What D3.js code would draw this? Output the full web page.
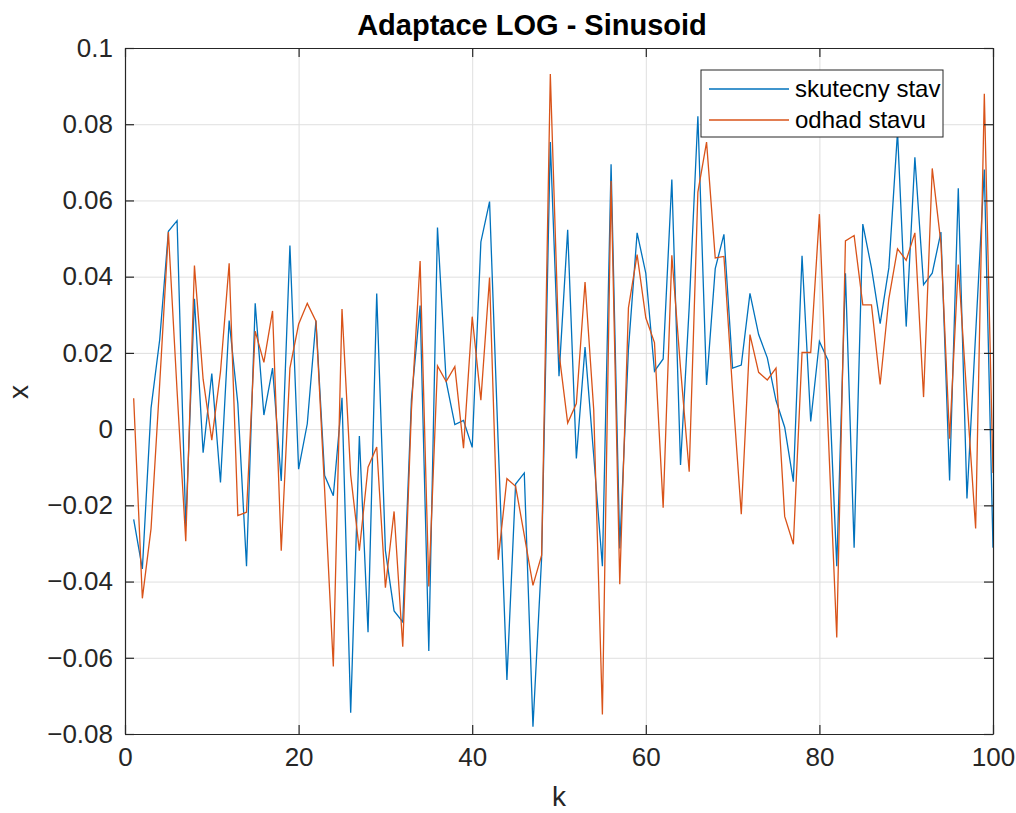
<!DOCTYPE html>
<html>
<head>
<meta charset="utf-8">
<script src="https://cdn.jsdelivr.net/npm/d3@7"></script>
<style>
  body { margin: 0; background: #fff; }
  svg { font-family: "Liberation Sans", Arial, sans-serif; }
</style>
</head>
<body>
<div id="chart"></div>
<script>
// k = 1..100
const kValues = [1,2,3,4,5,6,7,8,9,10,11,12,13,14,15,16,17,18,19,20,
  21,22,23,24,25,26,27,28,29,30,31,32,33,34,35,36,37,38,39,40,
  41,42,43,44,45,46,47,48,49,50,51,52,53,54,55,56,57,58,59,60,
  61,62,63,64,65,66,67,68,69,70,71,72,73,74,75,76,77,78,79,80,
  81,82,83,84,85,86,87,88,89,90,91,92,93,94,95,96,97,98,99,100];

// skutecny stav
const skutecny = [-0.0237,-0.0367,0.0055,0.0235,0.0519,0.0547,-0.0255,0.0342,-0.0062,0.0146,
  -0.014,0.0285,0.0067,-0.036,0.033,0.0037,0.016,-0.0136,0.0482,-0.0105,
  0.0014,0.0285,-0.0122,-0.0175,0.0082,-0.0744,-0.0018,-0.0533,0.0356,-0.0319,
  -0.0477,-0.0506,0.0078,0.0324,-0.0582,0.0529,0.0125,0.0012,0.0023,-0.0048,
  0.0491,0.0597,-0.004,-0.0658,-0.0144,-0.0115,-0.0781,-0.0337,0.0753,0.0139,
  0.0523,-0.0077,0.0215,-0.007,-0.036,0.0695,-0.0313,0.021,0.0515,0.0409,
  0.0152,0.0184,0.0655,-0.0094,0.032,0.0821,0.0116,0.0421,0.0511,0.016,
  0.0168,0.0356,0.0248,0.0187,0.0075,0.0005,-0.0138,0.0455,0.002,0.023,
  0.018,-0.036,0.0409,-0.0311,0.0538,0.0423,0.0277,0.0423,0.078,0.0269,
  0.0713,0.0379,0.0409,0.0517,-0.0135,0.0632,-0.0182,0.025,0.0681,-0.0311];

// odhad stavu
const odhad = [0.0081,-0.0444,-0.0261,0.012,0.0517,0.01,-0.0294,0.0429,0.0131,-0.0029,
  0.015,0.0435,-0.0227,-0.0218,0.0257,0.0175,0.031,-0.0319,0.016,0.0275,
  0.033,0.0283,-0.016,-0.0623,0.0315,-0.012,-0.0319,-0.01,-0.0047,-0.0416,
  -0.0216,-0.0571,0.005,0.0441,-0.0413,0.0166,0.0125,0.0164,-0.005,0.0295,
  0.0076,0.0398,-0.0343,-0.013,-0.015,-0.0278,-0.041,-0.0331,0.0932,0.02,
  0.0016,0.0067,0.0386,0.0051,-0.0749,0.0651,-0.0407,0.0318,0.0458,0.0292,
  0.0227,-0.0206,0.0456,0.016,-0.0112,0.0622,0.0753,0.0449,0.0453,0.01,
  -0.0223,0.0248,0.0149,0.0129,0.016,-0.0229,-0.0302,0.0201,0.0201,0.0564,
  0,-0.0547,0.0494,0.0508,0.0326,0.0326,0.0117,0.0342,0.0473,0.0443,
  0.0515,0.0084,0.0684,0.0488,-0.0025,0.0432,0.008,-0.0261,0.088,-0.0115];

const xTicks = [0, 20, 40, 60, 80, 100];
const yTicks = [-0.08, -0.06, -0.04, -0.02, 0, 0.02, 0.04, 0.06, 0.08, 0.1];
const seriesNames = ["skutecny stav", "odhad stavu"];
const seriesColors = ["#0072BD", "#D95319"];

const W = 1016, H = 813;
const margin = {top: 48, right: 23, bottom: 79, left: 125};
const width = W - margin.left - margin.right,
      height = H - margin.top - margin.bottom;

const svg = d3.select("#chart").append("svg")
    .attr("width", W)
    .attr("height", H);

const g = svg.append("g")
    .attr("transform", "translate(" + margin.left + "," + margin.top + ")");

const x = d3.scaleLinear().domain([0, 100]).range([0, width]);
const y = d3.scaleLinear().domain([-0.08, 0.1]).range([height, 0]);

// matlab style labels, with a real minus sign
const fmtY = d => d === 0 ? "0" : String(+d.toFixed(2)).replace("-", "\u2212");

// grid
g.append("g")
  .call(d3.axisBottom(x).tickValues(xTicks).tickSize(height).tickFormat(""))
  .call(s => s.select(".domain").remove())
  .call(s => s.selectAll("line").attr("stroke", "#dfdfdf"));
g.append("g")
  .call(d3.axisLeft(y).tickValues(yTicks).tickSize(-width).tickFormat(""))
  .call(s => s.select(".domain").remove())
  .call(s => s.selectAll("line").attr("stroke", "#dfdfdf"));

// lines
const series = [skutecny, odhad];
series.forEach((vals, i) => {
  const line = d3.line()
      .x((d, j) => x(kValues[j]))
      .y(d => y(d));
  g.append("path")
    .datum(vals)
    .attr("fill", "none")
    .attr("stroke", seriesColors[i])
    .attr("stroke-width", 1.3)
    .attr("stroke-linejoin", "miter")
    .attr("d", line);
});

// axes (ticks inward, box on)
const axisColor = "#262626";
const styleAxis = s => {
  s.select(".domain").attr("stroke", axisColor).attr("stroke-width", 1.2);
  s.selectAll(".tick line").attr("stroke", axisColor).attr("stroke-width", 1.2);
  s.selectAll("text").attr("fill", axisColor).attr("font-size", 26);
};

g.append("g")
  .attr("transform", "translate(0," + height + ")")
  .call(d3.axisBottom(x).tickValues(xTicks).tickSizeInner(-9).tickSizeOuter(0).tickPadding(14))
  .call(styleAxis);
g.append("g")
  .call(d3.axisTop(x).tickValues(xTicks).tickSizeInner(-9).tickSizeOuter(0).tickFormat(""))
  .call(styleAxis);
g.append("g")
  .call(d3.axisLeft(y).tickValues(yTicks).tickSizeInner(-9).tickSizeOuter(0).tickPadding(12).tickFormat(fmtY))
  .call(styleAxis);
g.append("g")
  .attr("transform", "translate(" + width + ",0)")
  .call(d3.axisRight(y).tickValues(yTicks).tickSizeInner(-9).tickSizeOuter(0).tickFormat(""))
  .call(styleAxis);

// title and labels
svg.append("text")
  .attr("x", 532).attr("y", 35)
  .attr("text-anchor", "middle")
  .attr("font-size", 29).attr("font-weight", "bold")
  .attr("fill", "#000")
  .text("Adaptace LOG - Sinusoid");

svg.append("text")
  .attr("x", margin.left + width / 2).attr("y", 806)
  .attr("text-anchor", "middle")
  .attr("font-size", 28).attr("fill", axisColor)
  .text("k");

svg.append("text")
  .attr("transform", "translate(28,392) rotate(-90)")
  .attr("text-anchor", "middle")
  .attr("font-size", 28).attr("fill", axisColor)
  .text("x");

// legend
const lg = svg.append("g").attr("transform", "translate(701,70)");
lg.append("rect")
  .attr("width", 242).attr("height", 67)
  .attr("fill", "#fff").attr("stroke", axisColor).attr("stroke-width", 1);
seriesNames.forEach((name, i) => {
  const cy = 19 + i * 31;
  lg.append("line")
    .attr("x1", 8).attr("x2", 88).attr("y1", cy).attr("y2", cy)
    .attr("stroke", seriesColors[i]).attr("stroke-width", 1.3);
  lg.append("text")
    .attr("x", 94).attr("y", cy)
    .attr("dy", "0.35em")
    .attr("font-size", 24).attr("fill", "#000")
    .text(name);
});
</script>
</body>
</html>
